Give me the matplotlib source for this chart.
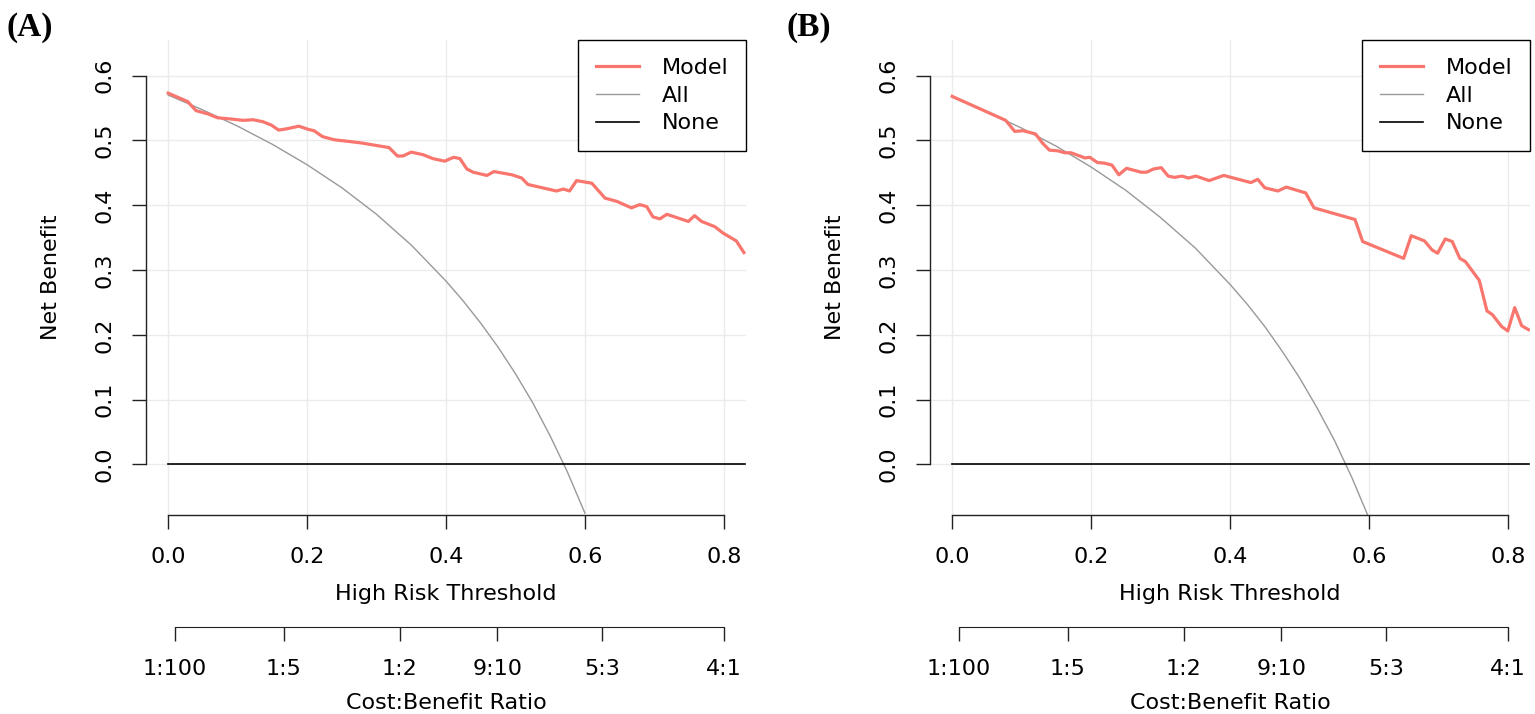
import numpy as np
import matplotlib.pyplot as plt

# decision curves
thr_a = [0.0, 0.028, 0.040, 0.057, 0.071, 0.091, 0.108, 0.122, 0.136, 0.148, 0.159, 0.171,
         0.188, 0.202, 0.210, 0.222, 0.239, 0.256, 0.279, 0.301, 0.318, 0.330, 0.338, 0.350,
         0.367, 0.381, 0.398, 0.411, 0.420, 0.430, 0.439, 0.459, 0.469, 0.495, 0.509, 0.518,
         0.559, 0.569, 0.578, 0.588, 0.610, 0.629, 0.646, 0.667, 0.679, 0.689, 0.698, 0.708,
         0.718, 0.749, 0.758, 0.768, 0.787, 0.799, 0.818, 0.829]
model_a = [0.573, 0.560, 0.546, 0.541, 0.535, 0.533, 0.531, 0.532, 0.529, 0.524, 0.516, 0.518,
           0.522, 0.517, 0.515, 0.506, 0.501, 0.499, 0.496, 0.492, 0.489, 0.476, 0.476, 0.482,
           0.478, 0.472, 0.468, 0.474, 0.472, 0.456, 0.451, 0.446, 0.452, 0.447, 0.442, 0.432,
           0.422, 0.425, 0.422, 0.438, 0.434, 0.411, 0.406, 0.396, 0.401, 0.398, 0.382, 0.379,
           0.386, 0.375, 0.384, 0.375, 0.367, 0.357, 0.345, 0.327]

thr_b = [0.0, 0.077, 0.090, 0.102, 0.120, 0.130, 0.140, 0.152, 0.162, 0.171, 0.191, 0.198,
         0.209, 0.219, 0.230, 0.240, 0.251, 0.272, 0.280, 0.290, 0.301, 0.311, 0.320, 0.331,
         0.340, 0.351, 0.370, 0.391, 0.430, 0.440, 0.450, 0.469, 0.481, 0.509, 0.521, 0.580,
         0.591, 0.650, 0.661, 0.680, 0.691, 0.699, 0.710, 0.720, 0.731, 0.739, 0.759, 0.770,
         0.778, 0.791, 0.800, 0.810, 0.820, 0.830]
model_b = [0.568, 0.531, 0.514, 0.515, 0.510, 0.496, 0.485, 0.484, 0.481, 0.481, 0.473, 0.474,
           0.466, 0.465, 0.462, 0.447, 0.457, 0.451, 0.451, 0.456, 0.458, 0.445, 0.443, 0.445,
           0.442, 0.445, 0.438, 0.446, 0.435, 0.440, 0.427, 0.422, 0.428, 0.419, 0.396, 0.378,
           0.344, 0.318, 0.353, 0.345, 0.331, 0.326, 0.348, 0.344, 0.318, 0.313, 0.284, 0.237,
           0.231, 0.213, 0.206, 0.242, 0.214, 0.208]

# treat-all curves
thr_all = [0.0, 0.05, 0.10, 0.15, 0.20, 0.25, 0.30, 0.35, 0.40, 0.425, 0.45, 0.475,
           0.50, 0.525, 0.55, 0.575, 0.60]
all_a = [0.570, 0.547, 0.522, 0.494, 0.4625, 0.427, 0.386, 0.3385, 0.283, 0.252, 0.218, 0.181,
         0.140, 0.095, 0.044, -0.012, -0.075]
all_b = [0.567, 0.544, 0.519, 0.491, 0.459, 0.423, 0.381, 0.334, 0.278, 0.247, 0.213, 0.175,
         0.134, 0.088, 0.038, -0.019, -0.0825]

thr_none = [0.0, 0.83]
none_nb = [0.0, 0.0]

x_ticks = [0.0, 0.2, 0.4, 0.6, 0.8]
y_ticks = [0.0, 0.1, 0.2, 0.3, 0.4, 0.5, 0.6]
cb_labels = ['1:100', '1:5', '1:2', '9:10', '5:3', '4:1']

def cb_to_thr(lab):
    c, b = lab.split(':')
    return float(c) / (float(c) + float(b))

cb_pos = [cb_to_thr(l) for l in cb_labels]

FS = 16
plt.rcParams['font.family'] = 'DejaVu Sans'

fig = plt.figure(figsize=(15.35, 7.14), dpi=100)
W, H = 1535.0, 714.0

panels = [
    ('(A)', 146, thr_a, model_a, all_a, 7),
    ('(B)', 930, thr_b, model_b, all_b, 787),
]

for tag, left_px, thr, model, allv, tag_x in panels:
    ax = fig.add_axes([left_px / W, (H - 515) / H, 600 / W, 475 / H])
    ax.set_xlim(-0.032, 0.832)
    ax.set_ylim(-0.078, 0.655)

    for xv in x_ticks:
        ax.axvline(xv, color='#EBEBEB', lw=1.0, zorder=0)
    for yv in y_ticks:
        ax.axhline(yv, color='#EBEBEB', lw=1.0, zorder=0)

    ax.plot(thr, model, color='#F8766D', lw=2.3, label='Model', zorder=3)
    ax.plot(thr_all, allv, color='#999999', lw=1.0, label='All', zorder=2)
    ax.plot(thr_none, none_nb, color='black', lw=1.2, label='None', zorder=2)

    for s in ['top', 'right']:
        ax.spines[s].set_visible(False)
    ax.spines['left'].set_bounds(0, 0.6)
    ax.spines['bottom'].set_bounds(0, 0.8)
    for s in ['left', 'bottom']:
        ax.spines[s].set_color('#222222')
        ax.spines[s].set_linewidth(1.0)

    ax.set_xticks(x_ticks)
    ax.set_xticklabels(['%.1f' % v for v in x_ticks])
    ax.set_yticks(y_ticks)
    ax.set_yticklabels(['%.1f' % v for v in y_ticks], rotation=90, va='center')
    ax.tick_params(length=10, width=1.0, color='#222222', labelsize=FS, pad=13)

    ax.set_xlabel('High Risk Threshold', fontsize=FS, labelpad=12)
    ax.set_ylabel('Net Benefit', fontsize=FS, labelpad=24)

    sec = ax.secondary_xaxis((515 - 627) / 475.0)
    sec.set_xticks(cb_pos)
    sec.set_xticklabels(cb_labels)
    sec.spines['bottom'].set_bounds(cb_pos[0], cb_pos[-1])
    sec.spines['bottom'].set_color('#222222')
    sec.tick_params(length=10, width=1.0, color='#222222', labelsize=FS, pad=13)
    sec.set_xlabel('Cost:Benefit Ratio', fontsize=FS, labelpad=10)

    leg = ax.legend(loc='upper right', bbox_to_anchor=(1, 1), borderaxespad=0,
                    fontsize=FS, fancybox=False, framealpha=1, edgecolor='black',
                    handlelength=1.95, handletextpad=1.0, labelspacing=0.35, borderpad=0.8)
    leg.get_frame().set_linewidth(1.0)

    fig.text(tag_x / W, 1 - 12 / H, tag, fontsize=24, fontweight='bold',
             family='Liberation Serif', ha='left', va='top')

fig.savefig('out.png', dpi=100)
